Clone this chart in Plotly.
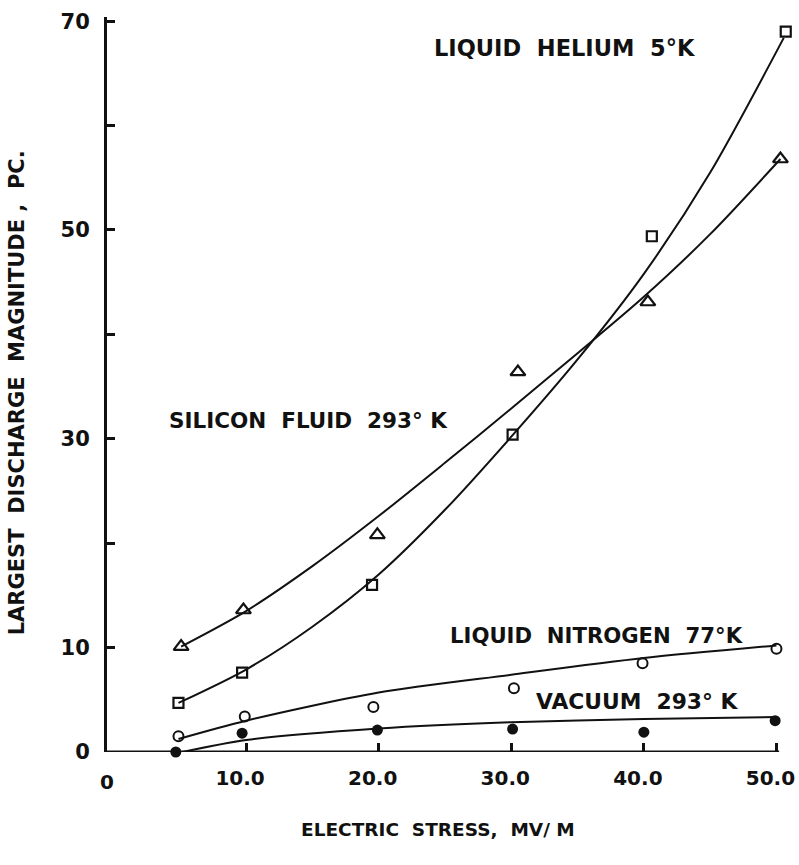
import plotly.graph_objects as go

# ---- measured data points ----
he_x = [4.9, 9.7, 19.5, 30.1, 40.6, 50.7]
he_y = [4.7, 7.6, 16.0, 30.4, 49.4, 69.0]

si_x = [5.1, 9.8, 19.9, 30.5, 40.3, 50.3]
si_y = [10.1, 13.6, 20.8, 36.4, 43.1, 56.8]

n2_x = [4.9, 9.9, 19.6, 30.2, 39.9, 50.0]
n2_y = [1.5, 3.4, 4.3, 6.1, 8.5, 9.9]

vac_x = [4.7, 9.7, 19.9, 30.1, 40.0, 49.9]
vac_y = [0.0, 1.8, 2.1, 2.2, 1.9, 3.0]

# ---- hand-drawn fitted curves ----
he_cx = [4.9, 10, 15, 20, 25, 30, 35, 40, 45, 50.55]
he_cy = [4.7, 7.9, 12.0, 17.0, 23.2, 30.2, 37.6, 45.8, 55.5, 68.4]

si_cx = [5.1, 10, 15, 20, 25, 30, 35, 40, 45, 50.3]
si_cy = [10.1, 13.5, 17.8, 22.6, 27.7, 32.9, 38.2, 43.6, 49.6, 56.8]

n2_cx = [4.9, 10, 20, 30, 40, 50]
n2_cy = [1.25, 3.0, 5.7, 7.4, 9.0, 10.2]

vac_cx = [5.2, 10, 20, 30, 40, 50]
vac_cy = [0.0, 1.15, 2.25, 2.85, 3.15, 3.35]

x_ticks = [10, 20, 30, 40, 50]
x_ticktext = ["10.0", "20.0", "30.0", "40.0", "50.0"]
y_ticks = [0, 10, 20, 30, 40, 50, 60, 70]
y_ticktext = ["0", "10", "", "30", "", "50", "", "70"]
x_axis_start, x_axis_end = -0.49, 50.2

label_texts = ["LIQUID  HELIUM  5°K", "SILICON  FLUID  293° K",
               "LIQUID  NITROGEN  77°K", "VACUUM  293° K"]
label_x = [24.0, 4.04, 25.2, 31.7]
label_y = [67.4, 31.8, 11.2, 4.8]
label_sizes = [22.5, 21.5, 21.2, 21.8]

FONT = "DejaVu Sans"
BLACK = "#111111"

def bold(t):
    return "<b>" + t + "</b>"

fig = go.Figure()
for cx, cy in [(he_cx, he_cy), (si_cx, si_cy), (n2_cx, n2_cy), (vac_cx, vac_cy)]:
    fig.add_trace(go.Scatter(x=cx, y=cy, mode="lines",
                             line=dict(color=BLACK, width=2, shape="spline", smoothing=0.8),
                             showlegend=False, hoverinfo="skip", cliponaxis=False))

marker_specs = [
    (he_x, he_y, dict(symbol="square-open", size=10, color=BLACK, line=dict(width=2.2, color=BLACK))),
    (si_x, si_y, dict(symbol="triangle-up-open", size=13, color=BLACK, line=dict(width=2.2, color=BLACK))),
    (n2_x, n2_y, dict(symbol="circle-open", size=10, color=BLACK, line=dict(width=2, color=BLACK))),
    (vac_x, vac_y, dict(symbol="circle", size=11, color=BLACK, line=dict(width=0))),
]
for mx, my, mk in marker_specs:
    fig.add_trace(go.Scatter(x=mx, y=my, mode="markers", marker=mk,
                             showlegend=False, cliponaxis=False))

for text, ax, ay, sz in zip(label_texts, label_x, label_y, label_sizes):
    fig.add_annotation(x=ax, y=ay, xref="x", yref="y", text=bold(text), showarrow=False,
                       xanchor="left", yanchor="middle",
                       font=dict(family=FONT, size=sz, color=BLACK))

# x-axis baseline (stops at 50, curves may run past it)
fig.add_shape(type="line", xref="x", yref="y", x0=x_axis_start, x1=x_axis_end, y0=0, y1=0,
              line=dict(color=BLACK, width=3), layer="above")

# x "0" label at the origin
fig.add_annotation(x=x_axis_start, y=-0.022, xref="x", yref="paper", text=bold("0"), showarrow=False,
                   xanchor="center", yanchor="top", font=dict(family=FONT, size=20, color=BLACK))

# axis titles
fig.add_annotation(x=(438 - 107) / 681, y=-0.105, xref="paper", yref="paper",
                   text=bold("ELECTRIC  STRESS,  MV/ M"), showarrow=False,
                   xanchor="center", yanchor="middle", font=dict(family=FONT, size=18.5, color=BLACK))
fig.add_annotation(x=(17 - 107) / 681, y=0.488, xref="paper", yref="paper",
                   text=bold("LARGEST  DISCHARGE  MAGNITUDE ,  PC."), showarrow=False, textangle=-90,
                   xanchor="center", yanchor="middle", font=dict(family=FONT, size=21, color=BLACK))

fig.update_layout(
    width=799, height=865,
    margin=dict(l=107, r=11, t=17, b=113),
    paper_bgcolor="white", plot_bgcolor="white",
    font=dict(family=FONT, color=BLACK),
    xaxis=dict(range=[x_axis_start, 50.87], tickvals=x_ticks, ticktext=[bold(t) for t in x_ticktext],
               ticks="inside", ticklen=9, tickwidth=2.5, tickcolor=BLACK,
               showline=False, showgrid=False, zeroline=False,
               tickfont=dict(family=FONT, size=20, color=BLACK), ticklabelstandoff=12,
               ticklabelshift=-6, ticklabeloverflow="allow", automargin=False),
    yaxis=dict(range=[0, 70.4], tickvals=y_ticks, ticktext=[bold(t) for t in y_ticktext],
               ticks="inside", ticklen=8, tickwidth=2.5, tickcolor=BLACK,
               showline=True, linewidth=3, linecolor=BLACK, showgrid=False, zeroline=False,
               tickfont=dict(family=FONT, size=21, color=BLACK), ticklabelstandoff=10,
               automargin=False),
)

fig.write_html("out.html")
